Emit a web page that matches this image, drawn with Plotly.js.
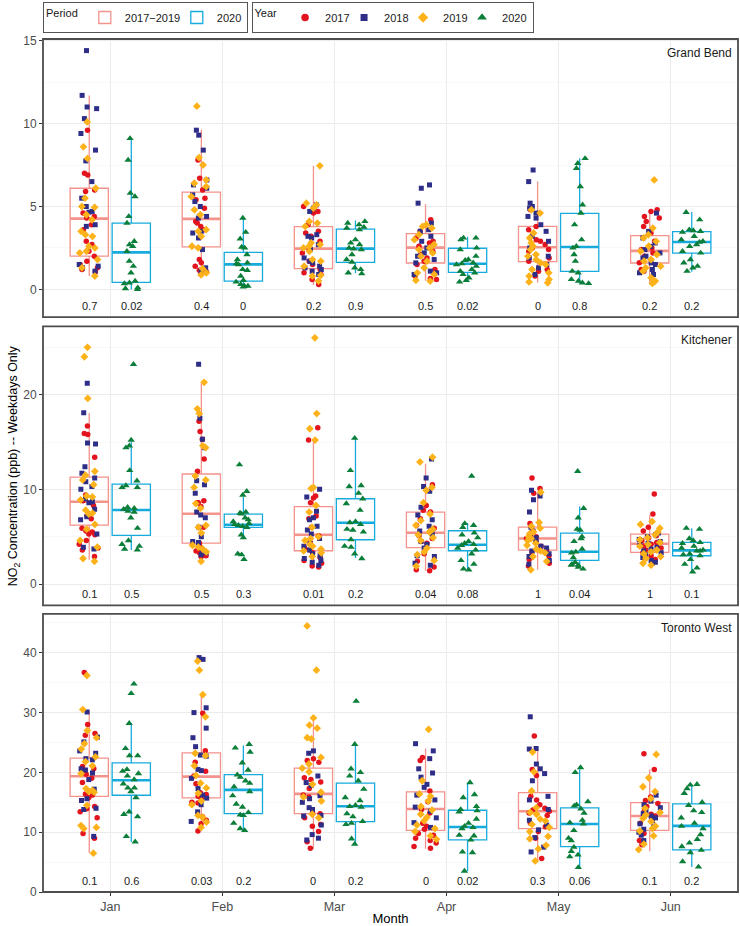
<!DOCTYPE html>
<html>
<head>
<meta charset="utf-8">
<script src="https://cdn.plot.ly/plotly-3.0.1.min.js"></script>
<style>
  body { margin: 0; background: #fff; }
  #plot { width: 740px; height: 926px; }
</style>
</head>
<body>
<div id="plot"></div>
<script>
const months = ['Jan', 'Feb', 'Mar', 'Apr', 'May', 'Jun'];
const stations = ['Grand Bend', 'Kitchener', 'Toronto West'];

// weekday NO2 (ppb), one inner list per month
const gb2017 = [
  [9.6, 7.0, 6.9, 6.0, 5.9, 4.6, 4.3, 3.9, 3.6, 2.9, 2.7, 2.0, 1.7, 1.5, 1.3, 1.2, 1.05, 4.4, 2.3],
  [7.8, 6.7, 6.0, 5.5, 5.4, 4.9, 4.1, 4.0, 3.8, 3.6, 1.8, 1.6, 1.4, 1.15, 1.1, 1.05, 0.95],
  [5.0, 4.7, 4.6, 3.9, 3.4, 3.5, 3.2, 2.9, 2.4, 2.2, 1.7, 1.5, 1.2, 1.0, 0.9, 0.6, 0.3],
  [4.2, 3.5, 3.1, 2.9, 2.6, 2.3, 2.1, 1.9, 1.7, 1.5, 1.2, 0.8, 0.65, 0.6, 2.8],
  [4.8, 3.8, 3.6, 3.0, 2.9, 2.7, 2.5, 2.4, 2.3, 1.9, 1.7, 1.2, 1.1, 0.8],
  [4.8, 4.7, 4.4, 4.3, 4.1, 3.8, 3.4, 2.9, 2.5, 2.4, 2.2, 2.0, 1.6, 1.2, 1.1]
];
const gb2018 = [
  [14.4, 11.7, 11.0, 10.9, 10.3, 9.4, 8.4, 7.75, 6.5, 5.5, 5.0, 4.7, 4.65, 3.9, 3.8, 1.5, 1.4, 1.3, 1.1],
  [9.6, 9.3, 8.4, 6.6, 6.3, 6.1, 5.7, 5.3, 5.0, 4.4, 4.3, 3.5, 3.4, 3.1, 2.4, 1.3, 1.1],
  [5.1, 4.9, 4.7, 3.3, 3.2, 3.1, 2.7, 2.4, 1.9, 1.7, 1.6, 1.4, 1.2, 1.1, 1.3, 0.9],
  [6.3, 6.1, 5.2, 4.0, 3.6, 3.5, 2.9, 2.5, 2.0, 1.8, 1.6, 1.1, 1.0, 0.9, 2.2, 3.2],
  [7.2, 6.5, 5.2, 5.0, 4.9, 4.6, 4.4, 4.3, 3.9, 3.5, 3.2, 2.9, 2.5, 2.0, 1.9, 1.5, 1.3, 0.9],
  [4.6, 3.5, 3.1, 2.8, 2.6, 2.4, 2.2, 2.0, 1.9, 1.6, 1.5, 1.2, 1.0, 0.9]
];
const gb2019 = [
  [10.1, 8.6, 7.9, 6.1, 5.5, 5.0, 4.95, 4.5, 4.2, 3.5, 3.3, 3.2, 2.6, 2.5, 2.3, 2.2, 1.8, 1.3, 0.8],
  [11.05, 7.95, 7.5, 6.6, 6.4, 6.2, 5.6, 4.8, 4.5, 3.6, 3.5, 3.2, 2.5, 2.6, 1.25, 1.0, 0.87],
  [7.45, 5.2, 5.1, 4.9, 4.1, 4.0, 3.8, 2.8, 2.7, 2.6, 2.5, 2.3, 1.8, 1.7, 1.4, 0.85, 0.8, 0.5],
  [3.9, 3.8, 3.7, 3.3, 3.0, 2.7, 2.5, 2.4, 2.0, 1.7, 1.3, 1.0, 0.9, 0.55, 0.5, 2.2],
  [4.8, 4.6, 3.4, 3.1, 2.8, 2.6, 2.4, 2.1, 2.0, 1.8, 1.6, 1.5, 1.2, 1.0, 0.8, 0.6, 0.45, 0.4],
  [6.6, 3.7, 3.3, 3.1, 2.9, 2.6, 2.3, 2.1, 1.8, 1.7, 1.4, 1.3, 1.1, 0.7, 0.5, 0.36]
];
const gb2020 = [
  [9.1, 7.8, 5.8, 5.6, 4.4, 4.0, 2.9, 2.7, 2.6, 2.3, 1.7, 1.4, 1.0, 0.5, 0.4, 0.35, 0.1, 0.05, 0.0],
  [4.3, 3.45, 3.05, 2.55, 2.5, 2.1, 1.8, 1.6, 1.55, 1.5, 1.2, 1.15, 0.8, 0.55, 0.45, 0.3, 0.2, 0.2, 0.15],
  [4.1, 4.0, 3.9, 3.75, 3.7, 3.6, 3.0, 2.8, 2.7, 2.5, 2.45, 2.4, 2.1, 1.8, 1.65, 1.3, 1.2, 1.0, 0.95],
  [3.1, 3.1, 3.0, 2.5, 2.4, 2.0, 1.8, 1.75, 1.6, 1.55, 1.5, 1.4, 1.2, 1.1, 1.0, 0.9, 0.7, 0.55, 0.45],
  [7.9, 7.6, 7.3, 6.2, 5.1, 4.6, 3.9, 3.0, 2.6, 2.5, 2.1, 1.7, 1.1, 1.0, 0.6, 0.5, 0.4, 0.36],
  [4.65, 4.2, 3.6, 3.55, 3.5, 3.45, 3.2, 3.0, 2.9, 2.85, 2.7, 2.6, 2.3, 2.2, 1.8, 1.6, 1.4, 1.3, 1.1]
];

const kit2017 = [
  [16.7, 15.9, 15.8, 13.4, 9.4, 8.8, 8.3, 7.2, 6.9, 5.9, 5.6, 5.5, 5.3, 5.2, 4.6, 4.2, 3.8, 3.6, 2.9],
  [17.2, 16.1, 15.3, 13.2, 11.9, 8.8, 8.6, 8.6, 8.2, 6.0, 4.3, 3.5, 3.3, 3.0, 3.0, 2.9, 3.8],
  [16.5, 15.2, 9.3, 9.1, 8.6, 7.2, 6.9, 6.0, 5.1, 4.4, 3.8, 3.6, 3.3, 2.8, 2.5, 2.2, 1.9, 1.8],
  [10.5, 8.3, 7.8, 7.6, 6.9, 6.2, 5.9, 5.5, 5.1, 4.8, 4.5, 4.3, 3.2, 2.4, 1.8, 1.5, 1.4],
  [11.2, 10.1, 9.6, 6.4, 6.0, 5.6, 5.3, 5.0, 4.8, 4.5, 4.0, 3.6, 3.4, 3.0, 2.6, 2.2, 1.9],
  [9.5, 7.4, 6.0, 5.6, 5.1, 4.9, 4.6, 4.4, 4.2, 4.0, 3.8, 3.6, 3.3, 3.0, 2.6, 2.4]
];
const kit2018 = [
  [21.2, 18.1, 14.9, 14.8, 12.4, 11.7, 11.2, 10.8, 10.3, 10.0, 9.0, 8.7, 8.6, 7.9, 7.1, 6.8, 5.3, 3.9, 3.7],
  [23.2, 17.5, 15.3, 14.4, 10.9, 10.5, 9.6, 7.6, 7.3, 7.0, 6.0, 5.0, 4.5, 4.4, 3.6, 3.3, 3.1],
  [10.0, 9.2, 7.7, 7.0, 6.8, 6.1, 5.7, 5.3, 4.8, 4.3, 4.0, 3.6, 3.2, 3.0, 2.7, 2.3, 2.0, 2.5],
  [13.2, 11.2, 10.3, 9.8, 8.1, 7.3, 6.8, 6.1, 5.6, 5.3, 4.5, 4.2, 3.8, 3.0, 2.9, 2.2, 2.0],
  [9.9, 9.3, 8.9, 7.6, 6.0, 5.6, 5.2, 4.9, 4.7, 4.4, 4.0, 3.8, 3.5, 3.2, 2.9, 2.5, 2.1],
  [5.4, 5.2, 5.0, 4.7, 4.5, 4.3, 4.1, 3.9, 3.7, 3.5, 3.3, 3.1, 2.8, 2.5, 2.3, 2.2]
];
const kit2019 = [
  [25.0, 24.0, 19.6, 11.9, 11.5, 11.0, 10.5, 9.3, 9.2, 8.9, 7.8, 7.5, 7.4, 6.3, 5.8, 4.6, 3.9, 2.7, 2.4],
  [21.3, 18.5, 18.0, 14.6, 14.4, 11.4, 11.0, 10.2, 8.5, 8.0, 6.2, 6.0, 5.4, 4.1, 3.9, 3.7, 3.4, 2.4],
  [26.0, 18.0, 16.4, 15.2, 10.2, 10.1, 8.3, 7.6, 6.0, 5.0, 4.8, 4.6, 4.2, 4.0, 3.7, 3.5, 3.3, 2.9],
  [13.4, 12.9, 10.2, 9.9, 8.6, 7.4, 6.7, 6.2, 5.8, 5.5, 5.2, 4.9, 4.6, 3.8, 3.4, 3.1, 2.5, 1.9],
  [9.7, 6.5, 6.1, 5.9, 5.5, 5.3, 5.0, 4.8, 4.6, 4.3, 4.1, 3.7, 3.5, 3.3, 2.9, 2.4, 1.5],
  [6.6, 6.3, 5.9, 5.5, 5.2, 4.9, 4.7, 4.4, 4.2, 4.0, 3.6, 3.4, 3.2, 2.9, 2.7, 2.2, 2.0]
];
const kit2020 = [
  [23.2, 15.2, 14.6, 14.4, 12.0, 10.9, 10.4, 10.2, 10.2, 8.1, 8.0, 7.9, 7.7, 7.6, 7.0, 5.9, 4.6, 4.2, 4.0, 3.7, 3.6],
  [12.6, 9.8, 9.4, 7.6, 7.5, 7.4, 7.0, 6.8, 6.6, 6.4, 6.3, 6.2, 6.1, 6.0, 5.2, 4.9, 3.2, 3.1, 2.6],
  [15.4, 12.0, 10.4, 10.3, 9.6, 9.0, 8.5, 7.8, 6.6, 6.5, 6.3, 5.8, 5.7, 5.5, 4.7, 4.0, 3.9, 3.2, 2.7],
  [11.4, 6.4, 6.2, 6.0, 5.4, 5.2, 4.9, 4.5, 4.3, 4.2, 4.1, 3.8, 3.6, 3.2, 2.5, 2.1, 1.6, 1.5],
  [11.9, 8.0, 7.0, 5.8, 5.7, 5.0, 4.8, 4.5, 3.7, 3.4, 3.3, 2.8, 2.3, 2.1, 2.0, 2.0, 1.8, 1.6],
  [5.9, 5.8, 4.8, 4.6, 4.4, 4.3, 4.0, 3.8, 3.6, 3.5, 3.5, 3.2, 3.1, 3.0, 2.6, 2.1, 1.7, 1.3]
];

const tw2017 = [
  [36.7, 28.0, 26.5, 26.2, 21.0, 20.6, 19.7, 19.0, 18.3, 16.4, 16.2, 15.8, 14.3, 13.9, 13.4, 12.4, 9.8, 9.0],
  [29.9, 23.6, 21.7, 20.2, 19.4, 18.1, 16.6, 16.3, 16.0, 15.6, 15.0, 14.9, 12.6, 12.0, 11.4, 10.2],
  [22.3, 22.0, 21.7, 19.1, 18.8, 18.4, 17.3, 16.2, 15.9, 13.3, 13.1, 12.4, 11.3, 11.0, 10.1, 8.4, 7.3],
  [22.5, 22.0, 16.9, 15.1, 13.8, 13.2, 11.5, 11.0, 10.5, 9.8, 9.5, 9.0, 8.6, 8.2, 7.6, 7.3],
  [26.1, 20.5, 19.5, 16.0, 15.4, 14.6, 14.0, 13.7, 13.5, 13.2, 12.8, 11.5, 10.9, 10.1, 9.0, 5.6],
  [23.1, 20.5, 15.9, 15.3, 14.8, 14.3, 13.5, 13.0, 12.7, 12.2, 11.5, 10.7, 9.8, 8.6, 7.9]
];
const tw2018 = [
  [30.1, 25.9, 25.1, 23.6, 23.2, 22.3, 22.1, 20.6, 20.4, 19.9, 18.8, 17.2, 15.6, 15.3, 14.0, 13.8, 9.3],
  [39.2, 38.9, 30.8, 30.0, 27.4, 25.8, 24.3, 22.9, 22.7, 20.5, 20.3, 19.0, 17.3, 16.2, 15.7, 14.6, 13.4, 11.8],
  [23.6, 23.2, 19.4, 18.3, 17.8, 16.1, 15.6, 15.0, 14.1, 13.8, 12.8, 12.7, 11.2, 9.6, 9.0, 8.7],
  [24.8, 23.6, 22.3, 20.6, 19.9, 19.2, 18.0, 17.5, 16.2, 15.4, 14.2, 13.5, 12.4, 11.6, 10.8],
  [29.3, 24.0, 23.9, 21.4, 20.6, 19.8, 18.6, 16.0, 15.4, 13.8, 12.0, 11.2, 10.4, 9.1, 7.5, 6.7],
  [16.2, 15.2, 14.6, 14.1, 13.6, 13.1, 12.7, 12.4, 11.9, 11.4, 10.9, 10.5, 10.0, 9.5, 8.6]
];
const tw2019 = [
  [36.2, 30.5, 27.0, 25.8, 24.8, 23.9, 22.6, 21.8, 21.1, 19.8, 17.3, 17.0, 16.8, 16.7, 14.5, 11.1, 10.8, 10.6, 6.5],
  [38.6, 37.1, 33.0, 29.3, 23.2, 22.8, 21.1, 19.5, 18.2, 17.4, 16.5, 15.2, 14.6, 12.8, 12.5, 11.7, 10.8],
  [44.5, 37.1, 29.1, 27.9, 27.4, 25.8, 25.6, 22.5, 21.4, 20.7, 20.1, 18.0, 16.7, 15.9, 15.2, 13.0, 12.4],
  [27.2, 18.6, 16.4, 16.0, 15.2, 14.3, 13.7, 13.0, 12.5, 11.9, 11.2, 10.6, 10.1, 9.4, 8.8],
  [23.4, 20.1, 16.9, 14.1, 13.3, 13.0, 12.2, 11.9, 11.3, 10.8, 10.1, 9.3, 8.9, 7.8, 7.2, 5.2],
  [23.0, 19.1, 17.6, 16.8, 15.6, 14.0, 13.3, 12.9, 12.3, 11.8, 11.0, 10.6, 10.2, 9.4, 8.0, 7.1]
];
const tw2020 = [
  [34.8, 33.2, 28.2, 24.0, 22.8, 22.8, 20.5, 20.2, 19.8, 19.4, 18.8, 18.1, 17.4, 17.4, 16.8, 15.8, 13.4, 13.0, 12.6, 9.3, 8.4],
  [24.7, 24.1, 23.4, 21.6, 20.4, 19.6, 19.2, 18.6, 18.2, 17.6, 16.8, 16.1, 14.7, 14.2, 13.3, 12.9, 12.8, 11.5, 10.6, 10.3],
  [31.9, 24.7, 20.6, 20.0, 19.4, 18.6, 17.2, 15.8, 15.3, 14.5, 14.3, 14.2, 13.1, 12.6, 11.8, 11.5, 11.3, 8.9, 8.0],
  [18.3, 16.3, 15.8, 14.3, 13.8, 13.6, 13.4, 12.2, 11.5, 11.0, 10.8, 10.6, 9.5, 9.4, 8.7, 6.7, 6.6, 3.5],
  [20.8, 20.0, 15.1, 14.6, 14.4, 13.9, 13.2, 12.0, 11.6, 11.4, 10.3, 9.0, 8.6, 7.5, 6.8, 6.2, 5.9, 4.1],
  [18.0, 17.9, 17.3, 16.5, 15.0, 14.5, 13.6, 13.3, 12.4, 11.5, 11.0, 10.6, 9.6, 8.8, 8.2, 7.6, 7.0, 6.6, 5.1, 4.2]
];

// box summaries (q1, median, q3, whisker ends) per month
const gbQ1 = [2.0, 2.56, 1.25, 1.59, 1.67, 1.59];
const gbMed = [4.27, 4.25, 2.46, 2.52, 2.54, 2.32];
const gbQ3 = [6.1, 5.86, 3.79, 3.36, 3.8, 3.24];
const gbLo = [0.8, 0.87, 0.26, 0.52, 0.4, 0.36];
const gbHi = [11.7, 9.62, 7.45, 5.13, 6.5, 4.79];
const gbQ1_20 = [0.42, 0.5, 1.63, 1.03, 1.09, 2.19];
const gbMed_20 = [2.23, 1.51, 2.46, 1.55, 2.56, 2.86];
const gbQ3_20 = [3.99, 2.23, 3.64, 2.48, 4.59, 3.48];
const gbLo_20 = [0.0, 0.16, 0.97, 0.46, 0.36, 1.07];
const gbHi_20 = [9.1, 4.27, 4.15, 3.18, 7.91, 4.67];

const kitQ1 = [6.23, 4.33, 3.52, 3.84, 3.59, 3.35];
const kitMed = [8.7, 7.43, 5.21, 5.42, 4.82, 4.26];
const kitQ3 = [11.3, 11.62, 8.17, 7.6, 6.02, 5.28];
const kitLo = [2.57, 2.57, 1.87, 1.41, 1.51, 2.2];
const kitHi = [18.06, 21.2, 15.07, 12.7, 9.61, 7.3];
const kitQ1_20 = [5.14, 5.99, 4.68, 3.52, 2.5, 2.99];
const kitMed_20 = [7.82, 6.27, 6.48, 4.15, 3.42, 3.56];
const kitQ3_20 = [10.56, 7.39, 9.01, 5.63, 5.39, 4.4];
const kitLo_20 = [3.6, 4.86, 2.75, 1.51, 1.87, 1.34];
const kitHi_20 = [15.0, 9.19, 15.35, 6.44, 8.2, 5.9];

const twQ1 = [16.0, 15.73, 13.1, 10.32, 10.6, 10.32];
const twMed = [19.36, 19.3, 16.4, 13.89, 13.5, 12.72];
const twQ3 = [22.4, 23.26, 20.7, 16.74, 16.62, 14.95];
const twLo = [6.53, 10.15, 7.25, 7.25, 5.13, 6.8];
const twHi = [30.35, 33.0, 29.1, 24.0, 23.8, 20.47];
const twQ1_20 = [16.18, 13.11, 11.77, 8.7, 7.59, 7.03];
const twMed_20 = [18.69, 17.07, 14.34, 10.88, 11.38, 11.05];
const twQ3_20 = [21.6, 19.64, 18.19, 13.67, 14.06, 14.73];
const twLo_20 = [8.37, 10.15, 7.92, 3.46, 4.13, 4.18];
const twHi_20 = [28.2, 24.5, 24.66, 18.3, 20.53, 17.96];

// p-values printed under each box
const gbP = ['0.7', '0.4', '0.2', '0.5', '0', '0.2'];
const gbP_20 = ['0.02', '0', '0.9', '0.02', '0.8', '0.2'];
const kitP = ['0.1', '0.5', '0.01', '0.04', '1', '1'];
const kitP_20 = ['0.5', '0.3', '0.2', '0.08', '0.04', '0.1'];
const twP = ['0.1', '0.03', '0', '0', '0.3', '0.1'];
const twP_20 = ['0.6', '0.2', '0.2', '0.02', '0.06', '0.2'];

const salmon = '#F3938B';
const cyan = '#17ABDD';
const yearColors = { '2017': '#E3141E', '2018': '#2E2D88', '2019': '#FDB21A', '2020': '#0B7E3A' };
const yearSymbols = { '2017': 'circle', '2018': 'square', '2019': 'diamond', '2020': 'triangle-up' };
const yearSizes = { '2017': 5.5, '2018': 5, '2019': 6, '2020': 6.5 };
const fontFam = 'Liberation Sans, Arial, sans-serif';

function flatten(perMonth) {
    const x = [], y = [];
    perMonth.forEach((vals, i) => {
        vals.forEach((v) => { x.push(months[i]); y.push(v); });
    });
    return { x: x, y: y };
}

function statBox(ax, name, grp, color, q1, med, q3, lo, hi, first, lw) {
    return {
        type: 'box', orientation: 'v', name: name, x: months,
        q1: q1, median: med, q3: q3, lowerfence: lo, upperfence: hi,
        xaxis: 'x', yaxis: ax, offsetgroup: grp, boxpoints: false, whiskerwidth: 0,
        line: { color: color, width: 1.3 }, fillcolor: 'rgba(0,0,0,0)',
        legend: 'legend', legendgroup: name, legendwidth: lw, showlegend: first, hoverinfo: 'skip'
    };
}

// thicker median bar, same slot as its box
function medianBar(ax, grp, color, med) {
    return {
        type: 'box', orientation: 'v', x: months,
        q1: med, median: med, q3: med, lowerfence: med, upperfence: med,
        xaxis: 'x', yaxis: ax, offsetgroup: grp, boxpoints: false, whiskerwidth: 0,
        line: { color: color, width: 2.6 }, fillcolor: 'rgba(0,0,0,0)',
        showlegend: false, hoverinfo: 'skip'
    };
}

function pointBox(ax, year, grp, perMonth) {
    const d = flatten(perMonth);
    return {
        type: 'box', x: d.x, y: d.y, name: year,
        xaxis: 'x', yaxis: ax, offsetgroup: grp,
        boxpoints: 'all', jitter: 0.62, pointpos: 0, whiskerwidth: 0,
        line: { width: 0, color: 'rgba(0,0,0,0)' }, fillcolor: 'rgba(0,0,0,0)',
        marker: { color: yearColors[year], symbol: yearSymbols[year], size: yearSizes[year], line: { width: 0 } },
        showlegend: false, hoveron: 'points'
    };
}

const panels = [
    { ax: 'y', data: [gb2017, gb2018, gb2019, gb2020], s1: [gbQ1, gbMed, gbQ3, gbLo, gbHi], s2: [gbQ1_20, gbMed_20, gbQ3_20, gbLo_20, gbHi_20], p1: gbP, p2: gbP_20 },
    { ax: 'y2', data: [kit2017, kit2018, kit2019, kit2020], s1: [kitQ1, kitMed, kitQ3, kitLo, kitHi], s2: [kitQ1_20, kitMed_20, kitQ3_20, kitLo_20, kitHi_20], p1: kitP, p2: kitP_20 },
    { ax: 'y3', data: [tw2017, tw2018, tw2019, tw2020], s1: [twQ1, twMed, twQ3, twLo, twHi], s2: [twQ1_20, twMed_20, twQ3_20, twLo_20, twHi_20], p1: twP, p2: twP_20 }
];

const data = [];
const annotations = [];
const shapes = [];

panels.forEach((p, k) => {
    const first = k === 0;
    data.push(statBox(p.ax, '2017\u22122019', 'a', salmon, ...p.s1, first, 47));
    data.push(statBox(p.ax, '2020', 'b', cyan, ...p.s2, first, 25));
    data.push(medianBar(p.ax, 'a', salmon, p.s1[1]));
    data.push(medianBar(p.ax, 'b', cyan, p.s2[1]));
    data.push(pointBox(p.ax, '2017', 'a', p.data[0]));
    data.push(pointBox(p.ax, '2018', 'a', p.data[1]));
    data.push(pointBox(p.ax, '2019', 'a', p.data[2]));
    data.push(pointBox(p.ax, '2020', 'b', p.data[3]));

    const dom = p.ax + ' domain';
    shapes.push({
        type: 'rect', xref: 'x domain', yref: dom, x0: 0, x1: 1, y0: 0, y1: 1,
        line: { color: '#4D4D4D', width: 1.8 }, layer: 'above'
    });
    annotations.push({
        text: stations[k], xref: 'x domain', yref: dom, x: 1, y: 1,
        xanchor: 'right', yanchor: 'top', xshift: -4, yshift: -5, showarrow: false,
        font: { size: 12, color: '#1A1A1A' }
    });
    months.forEach((m, i) => {
        [[p.p1[i], -0.1875], [p.p2[i], 0.1875]].forEach(([t, off]) => {
            annotations.push({
                text: t, xref: 'x', yref: dom, x: i + off, y: 0,
                xanchor: 'center', yanchor: 'bottom', yshift: 3, showarrow: false,
                font: { size: 11, color: '#1A1A1A' }
            });
        });
    });
});

// legend entries for the year markers
['2017', '2018', '2019', '2020'].forEach((yr, i) => {
    data.push({
        type: 'scatter', mode: 'markers', x: [null], y: [null], name: yr,
        xaxis: 'x', yaxis: 'y', legend: 'legend2', legendwidth: i === 3 ? 25 : 14,
        marker: { color: yearColors[yr], symbol: yearSymbols[yr], size: yearSizes[yr] + 2 }
    });
});

annotations.push({
    text: 'NO<sub>2</sub> Concentration (ppb) -- Weekdays Only',
    xref: 'paper', yref: 'paper', x: -0.042, y: 0.5, textangle: -90,
    xanchor: 'center', yanchor: 'middle', showarrow: false,
    font: { size: 12.5, color: '#000' }
});

function yAxis(dom, range, dtick, minor) {
    return {
        domain: dom, range: range, anchor: 'x', dtick: dtick,
        showgrid: true, gridcolor: '#EBEBEB', gridwidth: 1, zeroline: false,
        minor: { dtick: minor, showgrid: true, gridcolor: '#F4F4F4', gridwidth: 0.6 },
        ticks: 'outside', ticklen: 3, tickcolor: '#333', tickwidth: 1,
        tickfont: { size: 12, color: '#4D4D4D' }, showline: false
    };
}

const legendBase = {
    orientation: 'h', yanchor: 'top', y: 1.0434, xanchor: 'left',
    bordercolor: '#555', borderwidth: 1, font: { size: 11, color: '#1A1A1A' },
    itemwidth: 30, tracegroupgap: 0
};

const layout = {
    width: 740, height: 926,
    margin: { l: 43, r: 2, t: 39, b: 34 },
    paper_bgcolor: '#fff', plot_bgcolor: '#fff',
    font: { family: fontFam, color: '#1A1A1A' },
    boxmode: 'group', boxgap: 0.25, boxgroupgap: 0.09,
    xaxis: {
        type: 'category', categoryorder: 'array', categoryarray: months,
        range: [-0.6, 5.6], anchor: 'y3', showgrid: true, gridcolor: '#EBEBEB',
        ticks: 'outside', ticklen: 3, tickcolor: '#333',
        tickfont: { size: 12.5, color: '#4D4D4D' },
        title: { text: 'Month', font: { size: 13, color: '#000' }, standoff: 3 }
    },
    yaxis: yAxis([0.674, 1], [-1.67, 15.1], 5, 2.5),
    yaxis2: yAxis([0.336, 0.663], [-2.25, 27.2], 10, 5),
    yaxis3: yAxis([0, 0.326], [0, 46.5], 10, 5),
    legend: Object.assign({}, legendBase, { x: 0, title: { text: 'Period', side: 'left', font: { size: 11 } } }),
    legend2: Object.assign({}, legendBase, { x: 0.3, title: { text: 'Year', side: 'left', font: { size: 11 } } }),
    shapes: shapes,
    annotations: annotations
};

Plotly.newPlot('plot', data, layout, { displayModeBar: false, staticPlot: true });
</script>
</body>
</html>
